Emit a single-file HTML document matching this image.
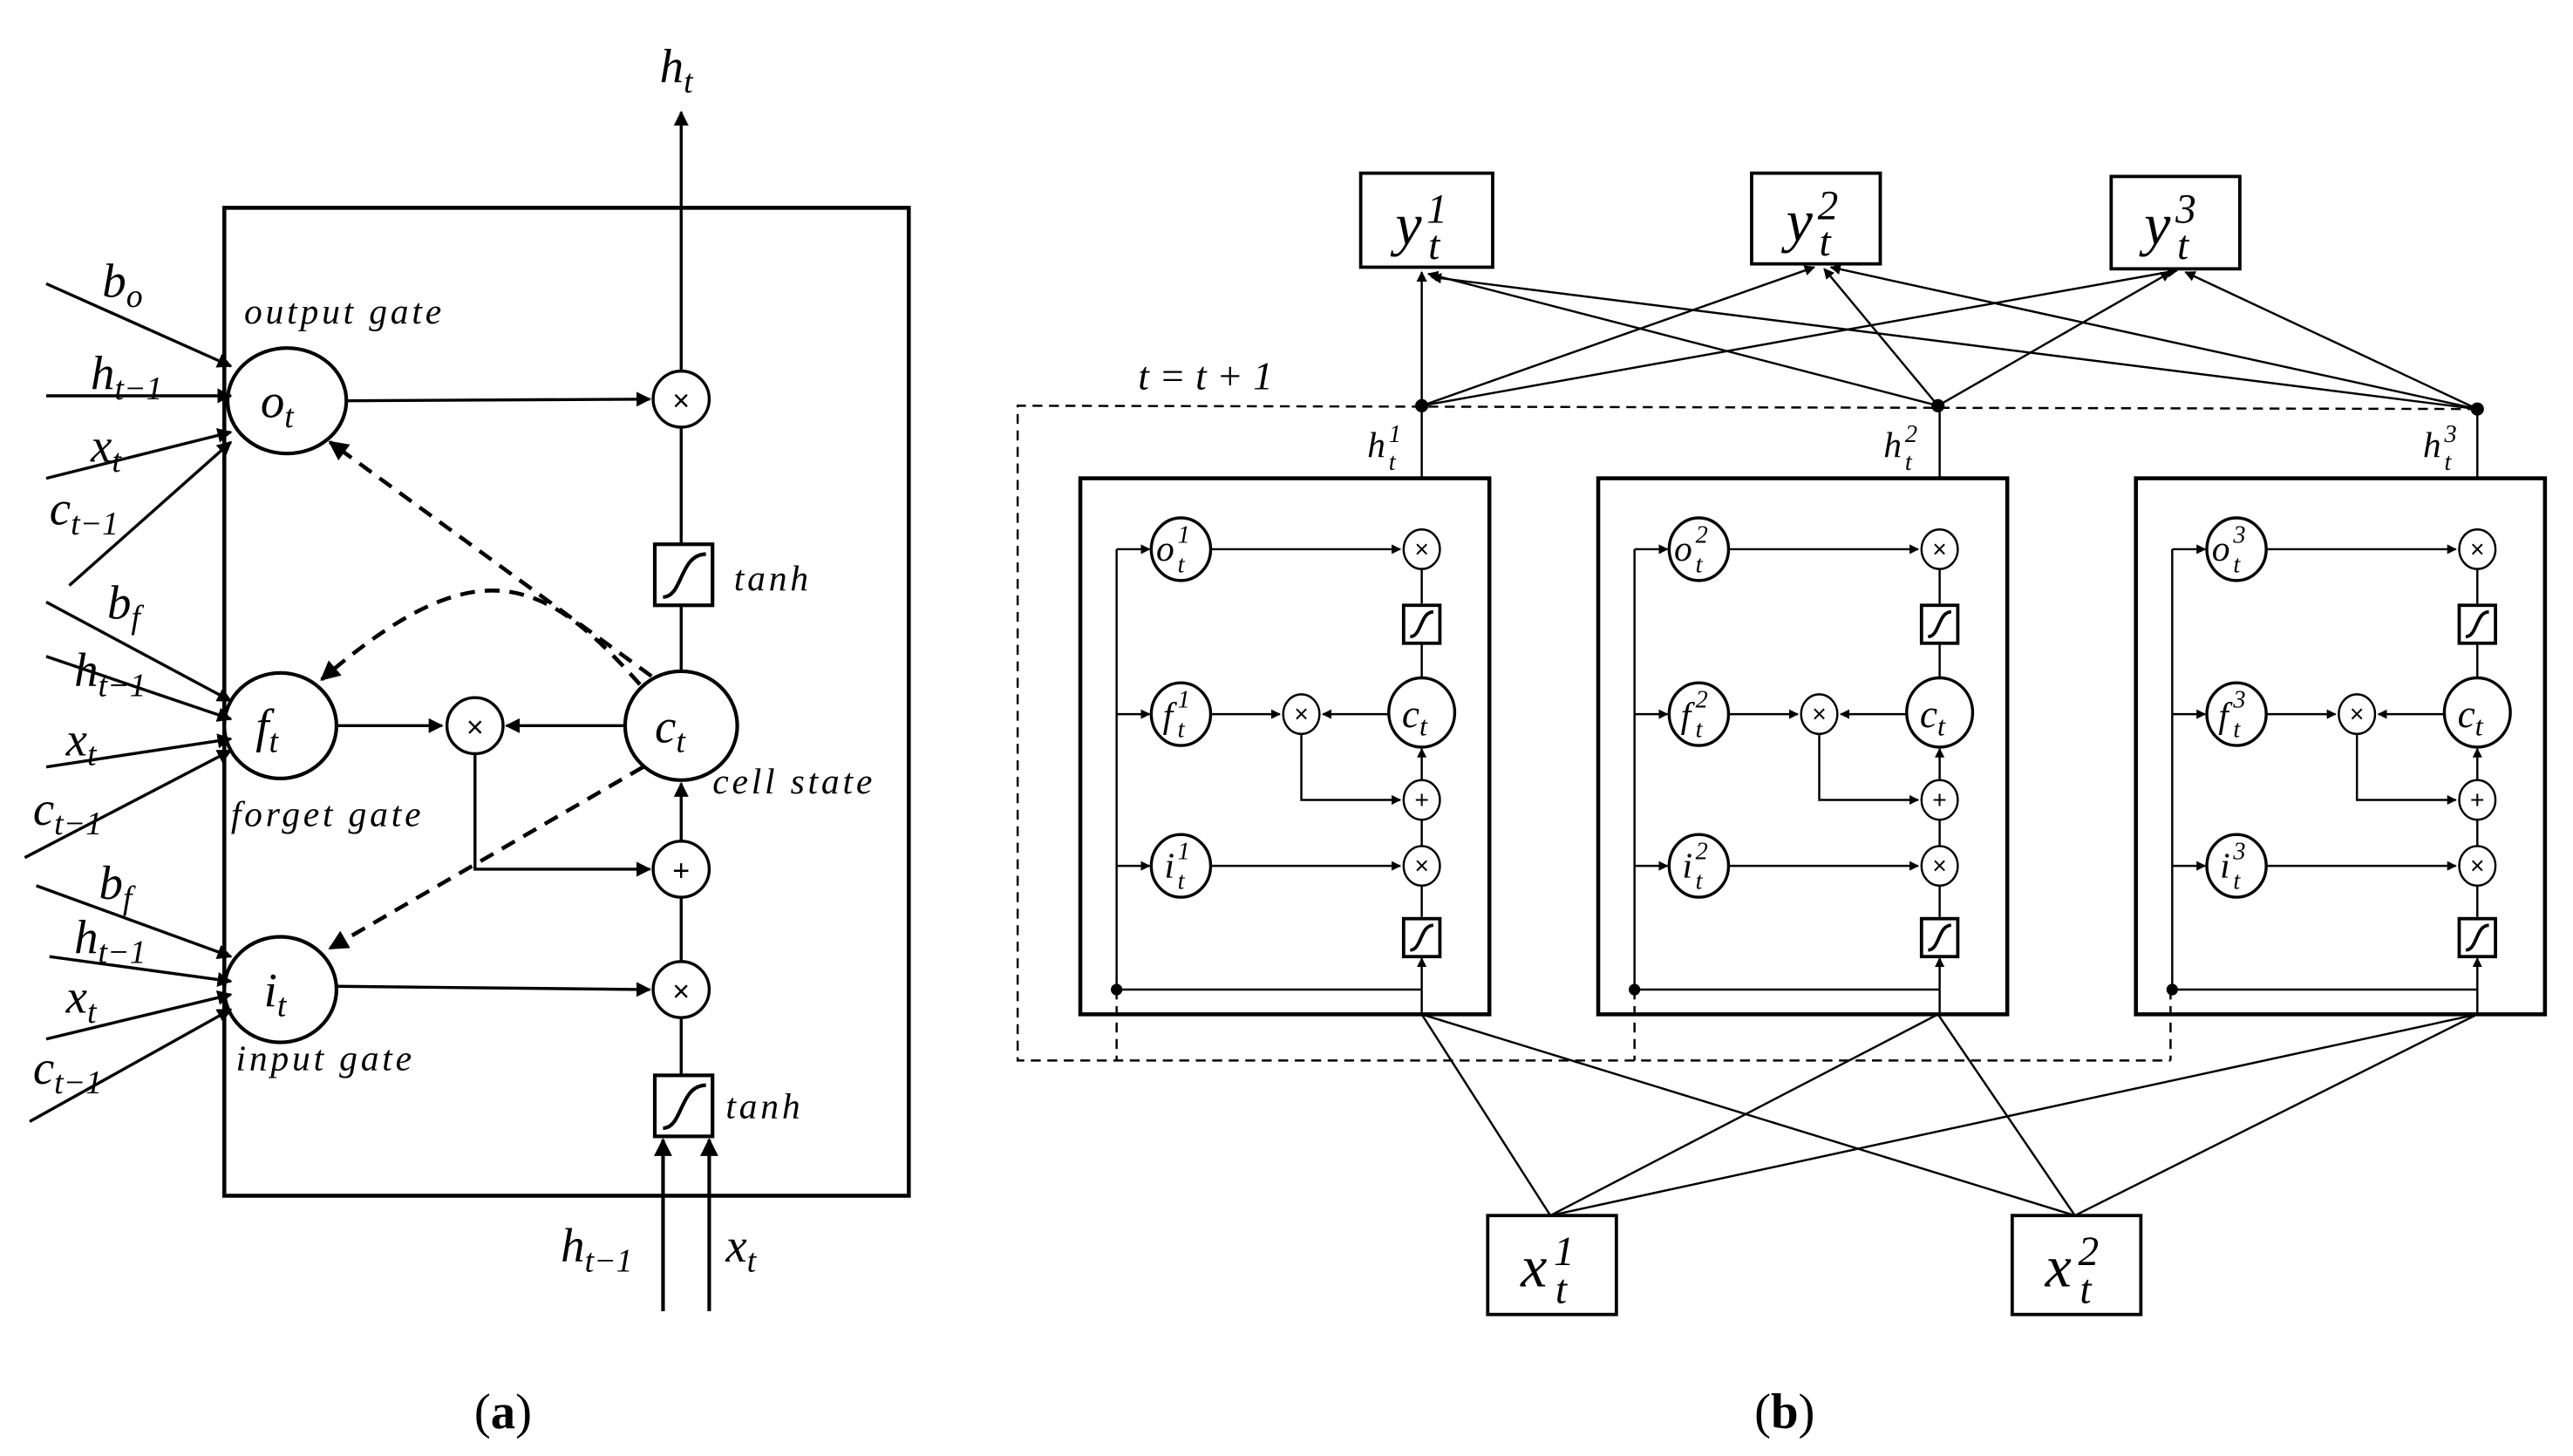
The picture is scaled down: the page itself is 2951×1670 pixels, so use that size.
<!DOCTYPE html>
<html><head><meta charset="utf-8"><style>html,body{margin:0;padding:0;background:#fff}svg{display:block}</style></head><body>
<svg width="2951" height="1670" viewBox="0 0 1560 882.8" preserveAspectRatio="none" xmlns="http://www.w3.org/2000/svg" font-family="Liberation Serif, serif">
<defs>
<marker id="ar" viewBox="0 0 10 10" refX="9" refY="5" markerWidth="5" markerHeight="5" orient="auto-start-reverse"><path d="M0,0L10,5L0,10z" fill="#000"/></marker>
<marker id="as" viewBox="0 0 10 10" refX="9" refY="5" markerWidth="4.5" markerHeight="4.5" orient="auto"><path d="M0,0L10,5L0,10z" fill="#000"/></marker>
</defs>
<g stroke="#000" fill="none" stroke-width="1.8">
<rect x="136" y="126" width="415" height="599" stroke-width="2.4"/>
<line x1="413" y1="225" x2="413" y2="68" marker-end="url(#ar)"/>
<circle cx="413" cy="242" r="17" fill="#fff"/>
<line x1="210" y1="243" x2="394" y2="242" marker-end="url(#ar)"/>
<ellipse cx="174" cy="243" rx="36" ry="32" fill="#fff" stroke-width="2.2"/>
<line x1="413" y1="259" x2="413" y2="330"/>
<rect x="397" y="330" width="35" height="37" fill="#fff" stroke-width="2.2"/>
<path d="M402,362 C414,362 412,336 428,336" stroke-width="2.2"/>
<line x1="413" y1="367" x2="413" y2="406"/>
<ellipse cx="413" cy="440" rx="34" ry="33" fill="#fff" stroke-width="2.2"/>
<ellipse cx="170" cy="440" rx="34" ry="32" fill="#fff" stroke-width="2.2"/>
<line x1="204" y1="440" x2="268" y2="440" marker-end="url(#ar)"/>
<circle cx="288" cy="440" r="17" fill="#fff"/>
<line x1="379" y1="440" x2="307" y2="440" marker-end="url(#ar)"/>
<polyline points="288,457 288,527 394,527" marker-end="url(#ar)"/>
<circle cx="413" cy="527" r="17" fill="#fff"/>
<line x1="413" y1="510" x2="413" y2="475" marker-end="url(#ar)"/>
<line x1="413" y1="583" x2="413" y2="544"/>
<circle cx="413" cy="600" r="17" fill="#fff"/>
<ellipse cx="170" cy="600" rx="34" ry="32" fill="#fff" stroke-width="2.2"/>
<line x1="204" y1="598" x2="394" y2="600" marker-end="url(#ar)"/>
<line x1="413" y1="617" x2="413" y2="652"/>
<rect x="397" y="652" width="35" height="37" fill="#fff" stroke-width="2.2"/>
<path d="M402,684 C414,684 412,658 428,658" stroke-width="2.2"/>
<line x1="402" y1="795" x2="402" y2="691" marker-end="url(#ar)" stroke-width="2.2"/>
<line x1="430" y1="795" x2="430" y2="691" marker-end="url(#ar)" stroke-width="2.2"/>
<g stroke-dasharray="9,6" stroke-width="2.4">
<line x1="395" y1="410" x2="200" y2="268" marker-end="url(#ar)"/>
<path d="M388,415 C330,350 290,330 195,412" marker-end="url(#ar)"/>
<line x1="390" y1="465" x2="200" y2="575" marker-end="url(#ar)"/>
</g>
<g marker-end="url(#ar)">
<line x1="28" y1="172" x2="140" y2="222"/><line x1="28" y1="240" x2="140" y2="240"/>
<line x1="28" y1="290" x2="140" y2="262"/><line x1="42" y1="355" x2="140" y2="268"/>
<line x1="28" y1="365" x2="140" y2="425"/><line x1="28" y1="398" x2="140" y2="436"/>
<line x1="28" y1="465" x2="140" y2="448"/><line x1="15" y1="520" x2="140" y2="455"/>
<line x1="22" y1="537" x2="140" y2="580"/><line x1="30" y1="580" x2="140" y2="595"/>
<line x1="28" y1="630" x2="140" y2="603"/><line x1="18" y1="680" x2="140" y2="612"/>
</g>
</g>
<g font-style="italic" font-size="29" fill="#000">
<text x="400" y="50">h<tspan font-size="20" dy="6">t</tspan></text>
<text x="158" y="253">o<tspan font-size="20" dy="6">t</tspan></text>
<text x="155" y="450">f<tspan font-size="20" dy="6">t</tspan></text>
<text x="160" y="610">i<tspan font-size="20" dy="6">t</tspan></text>
<text x="397" y="450">c<tspan font-size="20" dy="6">t</tspan></text>
<text x="62" y="180">b<tspan font-size="20" dy="6">o</tspan></text>
<text x="55" y="236">h<tspan font-size="20" dy="6">t−1</tspan></text>
<text x="55" y="280">x<tspan font-size="20" dy="6">t</tspan></text>
<text x="30" y="318">c<tspan font-size="20" dy="6">t−1</tspan></text>
<text x="65" y="375">b<tspan font-size="20" dy="6">f</tspan></text>
<text x="45" y="416">h<tspan font-size="20" dy="6">t−1</tspan></text>
<text x="40" y="458">x<tspan font-size="20" dy="6">t</tspan></text>
<text x="20" y="500">c<tspan font-size="20" dy="6">t−1</tspan></text>
<text x="60" y="545">b<tspan font-size="20" dy="6">f</tspan></text>
<text x="45" y="578">h<tspan font-size="20" dy="6">t−1</tspan></text>
<text x="40" y="614">x<tspan font-size="20" dy="6">t</tspan></text>
<text x="20" y="657">c<tspan font-size="20" dy="6">t−1</tspan></text>
<text x="340" y="765">h<tspan font-size="20" dy="6">t−1</tspan></text>
<text x="440" y="765">x<tspan font-size="20" dy="6">t</tspan></text>
<g font-size="22" letter-spacing="2">
<text x="148" y="196">output gate</text>
<text x="140" y="501">forget gate</text>
<text x="143" y="649">input gate</text>
<text x="432" y="481">cell state</text>
<text x="445" y="358">tanh</text>
<text x="440" y="678">tanh</text>
</g>
</g>
<g font-family="Liberation Sans, sans-serif" font-size="18" text-anchor="middle">
<text x="413" y="249">×</text><text x="288" y="447">×</text><text x="413" y="534">+</text><text x="413" y="607">×</text>
</g>
<text x="305" y="866" font-size="30" text-anchor="middle">(<tspan font-weight="bold">a</tspan>)</text>
<text x="1082" y="866" font-size="30" text-anchor="middle">(<tspan font-weight="bold">b</tspan>)</text>

<g stroke="#000" fill="none" stroke-width="1.3">
<rect x="825" y="105" width="80" height="57" stroke-width="2"/>
<rect x="1062" y="105" width="78" height="55" stroke-width="2"/>
<rect x="1280" y="107" width="78" height="56" stroke-width="2"/>
<rect x="902" y="737" width="78" height="60" stroke-width="2"/>
<rect x="1220" y="737" width="78" height="60" stroke-width="2"/>
<g marker-end="url(#ar)">
<line x1="862" y1="246" x2="862" y2="165"/><line x1="862" y1="246" x2="1100" y2="162"/><line x1="862" y1="246" x2="1320" y2="164"/>
<line x1="1175" y1="246" x2="866" y2="166"/><line x1="1175" y1="246" x2="1106" y2="163"/><line x1="1175" y1="246" x2="1316" y2="165"/>
<line x1="1502" y1="248" x2="868" y2="168"/><line x1="1502" y1="248" x2="1110" y2="162"/><line x1="1502" y1="248" x2="1325" y2="165"/>
</g>
<g stroke-dasharray="6,4">
<polyline points="1502,248 617,246 617,643 1316,643"/>
<line x1="677" y1="600" x2="677" y2="643"/><line x1="991" y1="600" x2="991" y2="643"/><line x1="1316" y1="600" x2="1316" y2="643"/>
</g>
<line x1="940" y1="737" x2="862" y2="615"/><line x1="940" y1="737" x2="1175" y2="615"/><line x1="940" y1="737" x2="1502" y2="615"/>
<line x1="1258" y1="737" x2="862" y2="615"/><line x1="1258" y1="737" x2="1175" y2="615"/><line x1="1258" y1="737" x2="1502" y2="615"/>
</g>
<g fill="#000"><circle cx="862" cy="246" r="4"/><circle cx="1175" cy="246" r="4"/><circle cx="1502" cy="248" r="4"/></g>
<g font-style="italic">
<text x="846" y="148" font-size="36">y</text><text x="865" y="135" font-size="25">1</text><text x="866" y="157" font-size="25">t</text>
<text x="1083" y="146" font-size="36">y</text><text x="1102" y="133" font-size="25">2</text><text x="1103" y="155" font-size="25">t</text>
<text x="1300" y="148" font-size="36">y</text><text x="1319" y="135" font-size="25">3</text><text x="1320" y="157" font-size="25">t</text>
<text x="922" y="780" font-size="36">x</text><text x="942" y="767" font-size="25">1</text><text x="943" y="790" font-size="25">t</text>
<text x="1240" y="780" font-size="36">x</text><text x="1260" y="767" font-size="25">2</text><text x="1261" y="790" font-size="25">t</text>
</g>
<text x="690" y="236" font-size="24" font-style="italic">t = t + 1</text>

<defs>
<g id="mod">
<g stroke="#000" fill="none" stroke-width="1.3">
<rect x="655" y="290" width="248" height="325" stroke-width="2.4"/>
<line x1="862" y1="290" x2="862" y2="248"/>
<polyline points="862,600 677,600 677,333"/>
<line x1="677" y1="333" x2="697" y2="333" marker-end="url(#as)"/>
<line x1="677" y1="433" x2="697" y2="433" marker-end="url(#as)"/>
<line x1="677" y1="525" x2="697" y2="525" marker-end="url(#as)"/>
<line x1="734" y1="333" x2="849" y2="333" marker-end="url(#as)"/>
<line x1="734" y1="525" x2="849" y2="525" marker-end="url(#as)"/>
<line x1="734" y1="433" x2="776" y2="433" marker-end="url(#as)"/>
<line x1="842" y1="433" x2="802" y2="433" marker-end="url(#as)"/>
<polyline points="789,445 789,485 849,485" marker-end="url(#as)"/>
<line x1="862" y1="345" x2="862" y2="366"/><line x1="862" y1="390" x2="862" y2="412"/>
<line x1="862" y1="473" x2="862" y2="454" marker-end="url(#as)"/>
<line x1="862" y1="513" x2="862" y2="497"/><line x1="862" y1="537" x2="862" y2="556"/>
<line x1="862" y1="615" x2="862" y2="581" marker-end="url(#as)"/>
<ellipse cx="716" cy="333" rx="18" ry="19" fill="#fff" stroke-width="1.8"/>
<ellipse cx="716" cy="433" rx="18" ry="19" fill="#fff" stroke-width="1.8"/>
<ellipse cx="716" cy="525" rx="18" ry="19" fill="#fff" stroke-width="1.8"/>
<ellipse cx="862" cy="432" rx="20" ry="21" fill="#fff" stroke-width="1.8"/>
<ellipse cx="862" cy="333" rx="11" ry="12" fill="#fff"/>
<ellipse cx="789" cy="433" rx="11" ry="12" fill="#fff"/>
<ellipse cx="862" cy="485" rx="11" ry="12" fill="#fff"/>
<ellipse cx="862" cy="525" rx="11" ry="12" fill="#fff"/>
<rect x="851" y="367" width="22" height="23" fill="#fff" stroke-width="2"/>
<path d="M855,386 C862,386 861,371 869,371" stroke-width="2"/>
<rect x="851" y="557" width="22" height="23" fill="#fff" stroke-width="2"/>
<path d="M855,576 C862,576 861,561 869,561" stroke-width="2"/>
</g>
<circle cx="677" cy="600" r="3.5" fill="#000"/>
<g font-family="Liberation Sans, sans-serif" font-size="15" text-anchor="middle">
<text x="862" y="338">×</text><text x="789" y="438">×</text><text x="862" y="490">+</text><text x="862" y="530">×</text>
</g>
<text x="850" y="441" font-size="24" font-style="italic">c<tspan font-size="17" dy="5">t</tspan></text>
</g>
</defs>
<use href="#mod"/>
<use href="#mod" transform="translate(314,0)"/>
<use href="#mod" transform="translate(640,0)"/>
<g font-style="italic" font-size="15">
<g font-size="22"><text x="701" y="340">o</text><text x="705" y="441">f</text><text x="706" y="532">i</text><text x="1015" y="340">o</text><text x="1019" y="441">f</text><text x="1020" y="532">i</text><text x="1341" y="340">o</text><text x="1345" y="441">f</text><text x="1346" y="532">i</text>
<text x="829" y="277">h</text><text x="1142" y="277">h</text><text x="1469" y="277">h</text></g>
<text x="714" y="329">1</text><text x="714" y="347">t</text><text x="714" y="429">1</text><text x="714" y="447">t</text><text x="714" y="521">1</text><text x="714" y="539">t</text>
<text x="1028" y="329">2</text><text x="1028" y="347">t</text><text x="1028" y="429">2</text><text x="1028" y="447">t</text><text x="1028" y="521">2</text><text x="1028" y="539">t</text>
<text x="1354" y="329">3</text><text x="1354" y="347">t</text><text x="1354" y="429">3</text><text x="1354" y="447">t</text><text x="1354" y="521">3</text><text x="1354" y="539">t</text>
<text x="842" y="268">1</text><text x="842" y="285">t</text><text x="1155" y="268">2</text><text x="1155" y="285">t</text><text x="1482" y="268">3</text><text x="1482" y="285">t</text>
</g>
</svg>
</body></html>
